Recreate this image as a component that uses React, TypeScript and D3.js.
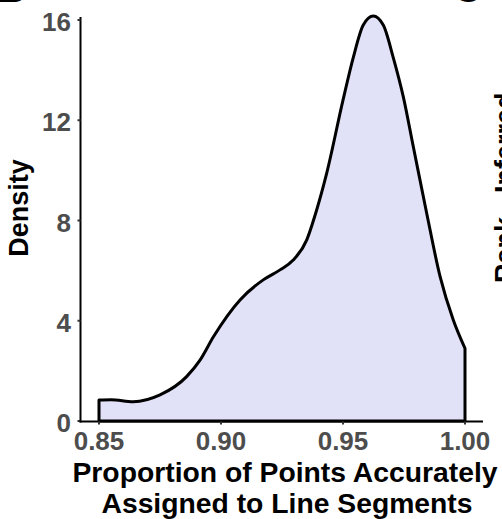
import React from 'react';
import * as d3 from 'd3';

const width = 502;
const height = 519;

// density estimate
const propX: number[] = [0.85, 0.855, 0.864, 0.875, 0.8859, 0.8914, 0.8969, 0.9078, 0.9173, 0.9242, 0.9296, 0.9351, 0.9392, 0.9433, 0.95, 0.9542, 0.9583, 0.9624, 0.9665, 0.9706, 0.9747, 0.9788, 0.9843, 0.9898, 0.9952, 1.0];
const densY: number[] = [0.84, 0.85, 0.77, 1.04, 1.77, 2.43, 3.36, 4.83, 5.63, 6.03, 6.42, 7.22, 8.42, 9.88, 12.8, 14.5, 15.8, 16.16, 15.8, 14.5, 12.94, 10.95, 8.29, 5.76, 4.03, 2.9];

const xTicks: number[] = [0.85, 0.9, 0.95, 1.0];
const yTicks: number[] = [0, 4, 8, 12, 16];

const font = 'Liberation Sans, Arial, sans-serif';

const App = () => {
    const x = d3.scaleLinear().domain([0.85, 1.0]).range([99, 465]);
    const y = d3.scaleLinear().domain([0, 16]).range([421, 20]);

    const pts = propX.map((v, i) => ({ x: v, d: densY[i] }));
    const area = d3.area<{ x: number; d: number }>()
        .x(p => x(p.x))
        .y0(y(0))
        .y1(p => y(p.d))
        .curve(d3.curveMonotoneX);

    const axisY = y(0) + 0.5;

    return (
        <svg width={width} height={height} style={{ position: 'absolute', left: 0, top: 0 }}>
            <rect width={width} height={height} fill="#fff" />
            {/* cut-off panel letters from neighbouring panels */}
            <text x={-3} y={2} fontFamily={font} fontWeight="bold" fontSize={40}>B</text>
            <text x={453} y={2} fontFamily={font} fontWeight="bold" fontSize={40}>C</text>

            <path d={area(pts) || ''} fill="#E1E1F7" stroke="#000" strokeWidth={3} strokeLinejoin="round" />

            {/* y axis */}
            <line x1={80.5} x2={80.5} y1={17} y2={axisY + 1} stroke="#000" strokeWidth={2} />
            {yTicks.map(t => (
                <g key={t}>
                    <line x1={77.5} x2={80.5} y1={y(t)} y2={y(t)} stroke="#333" strokeWidth={2} />
                    <text x={71} y={y(t) + 11} textAnchor="end" fontFamily={font} fontWeight="bold" fontSize={26} fill="#4D4D4D">{t}</text>
                </g>
            ))}
            {/* x axis */}
            <line x1={79.5} x2={483} y1={axisY} y2={axisY} stroke="#000" strokeWidth={2} />
            {xTicks.map(t => (
                <g key={t}>
                    <line x1={x(t)} x2={x(t)} y1={axisY} y2={axisY + 3} stroke="#333" strokeWidth={2} />
                    <text x={x(t)} y={449.5} textAnchor="middle" fontFamily={font} fontWeight="bold" fontSize={26} fill="#4D4D4D">{d3.format('.2f')(t)}</text>
                </g>
            ))}

            <text x={285} y={481.5} textAnchor="middle" fontFamily={font} fontWeight="bold" fontSize={28.3}>Proportion of Points Accurately</text>
            <text x={287} y={513} textAnchor="middle" fontFamily={font} fontWeight="bold" fontSize={28.3}>Assigned to Line Segments</text>
            <text transform="translate(28,208) rotate(-90)" textAnchor="middle" fontFamily={font} fontWeight="bold" fontSize={27}>Density</text>
            <text transform="translate(514,283) rotate(-90)" textAnchor="start" fontFamily={font} fontWeight="bold" fontSize={27}>Rank - Inferred</text>
        </svg>
    );
};

export default App;
